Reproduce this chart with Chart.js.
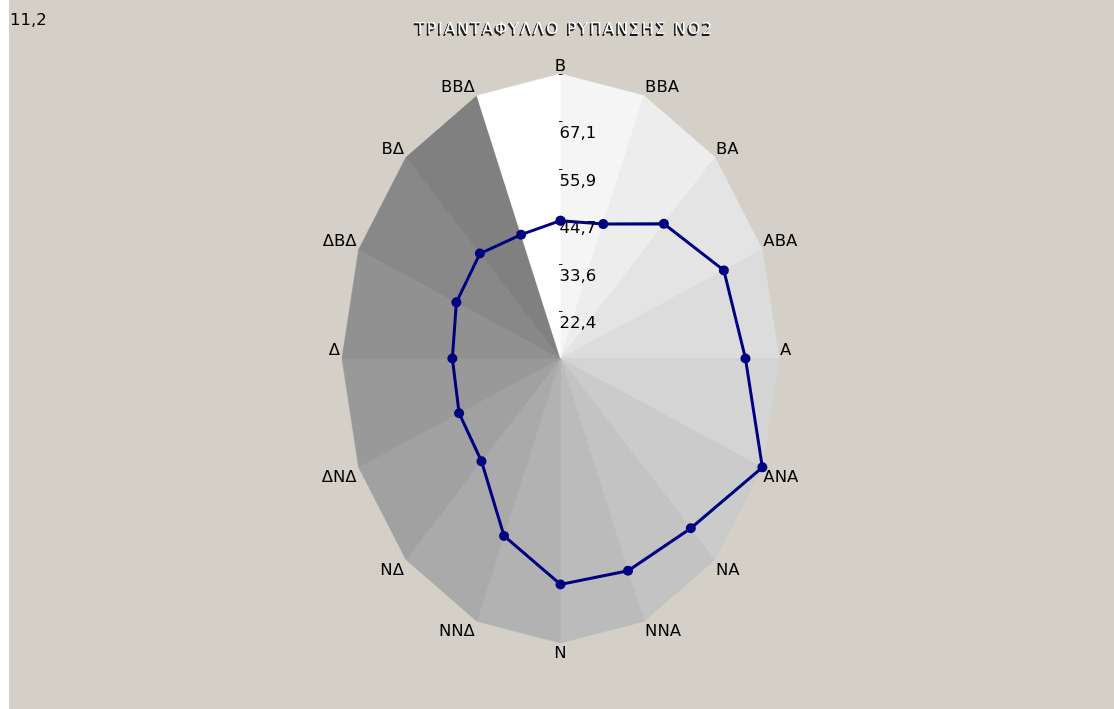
<!DOCTYPE html>
<html lang="el">

<head>
  <meta charset="UTF-8">
  <title>Τριαντάφυλλο ρύπανσης NO2</title>
  <script src="https://cdn.jsdelivr.net/npm/chart.js"></script>
  <style>
    html, body {
      margin: 0;
      padding: 0;
      background: #ffffff;
      overflow: hidden;
    }
    #chartContainer {
      position: absolute;
      left: 9px;
      top: 0;
      width: 1105px;
      height: 709px;
      background: #d4d0c8;
    }
  </style>
</head>

<body>

  <div id="chartContainer">
    <canvas id="roseNo2" width="1105" height="709"></canvas>
  </div>

  <script>
    // wind directions, clockwise from north (Β)
    const directions = ['Β', 'ΒΒΑ', 'ΒΑ', 'ΑΒΑ', 'Α', 'ΑΝΑ', 'ΝΑ', 'ΝΝΑ', 'Ν', 'ΝΝΔ', 'ΝΔ', 'ΔΝΔ', 'Δ', 'ΔΒΔ', 'ΒΔ', 'ΒΒΔ'];
    const no2Values = [43.7, 45.5, 56.1, 65.5, 68.0, 78.3, 67.8, 65.4, 64.5, 56.5, 45.5, 44.9, 44.4, 45.8, 46.2, 42.8];
    const tickValues = [11.186, 22.371, 33.557, 44.743, 55.929, 67.114, 78.3];
    const tickLabels = ['11,2', '22,4', '33,6', '44,7', '55,9', '67,1', ''];
    const chartTitle = 'ΤΡΙΑΝΤΑΦΥΛΛΟ ΡΥΠΑΝΣΗΣ ΝΟ2';

    const scaleMin = tickValues[0];
    const scaleMax = tickValues[tickValues.length - 1];
    const span = scaleMax - scaleMin;

    // sector shades: sector k lies between direction k and k+1
    const sectorColors = [];
    for (let k = 0; k < 15; k++) {
      const g = Math.round(245 - k * 117 / 14);
      sectorColors.push('rgb(' + g + ',' + g + ',' + g + ')');
    }
    sectorColors.push('#ffffff');

    const angleOf = i => i * Math.PI * 2 / directions.length;

    const points = no2Values.map((v, i) => ({
      x: (v - scaleMin) * Math.sin(angleOf(i)),
      y: (v - scaleMin) * Math.cos(angleOf(i))
    }));
    points.push(points[0]);

    const FONT = '"DejaVu Sans", Verdana, sans-serif';

    const rosePlugin = {
      id: 'rose',
      beforeDatasetsDraw(chart) {
        const ctx = chart.ctx;
        const xs = chart.scales.x, ys = chart.scales.y;
        const at = (r, i) => [xs.getPixelForValue(r * Math.sin(angleOf(i))), ys.getPixelForValue(r * Math.cos(angleOf(i)))];
        const c = at(0, 0);
        ctx.save();
        for (let k = 0; k < directions.length; k++) {
          const a = at(span, k), b = at(span, (k + 1) % directions.length);
          ctx.beginPath();
          ctx.moveTo(c[0], c[1]);
          ctx.lineTo(a[0], a[1]);
          ctx.lineTo(b[0], b[1]);
          ctx.closePath();
          ctx.fillStyle = sectorColors[k];
          ctx.strokeStyle = sectorColors[k];
          ctx.lineWidth = 0.6;
          ctx.fill();
          ctx.stroke();
        }
        // value ticks along the north axis
        ctx.font = '16.5px ' + FONT;
        ctx.textAlign = 'left';
        ctx.textBaseline = 'alphabetic';
        tickValues.forEach((t, j) => {
          if (j === 0) return;
          const y = Math.round(ys.getPixelForValue(t - scaleMin)) + 0.5;
          ctx.strokeStyle = '#222';
          ctx.lineWidth = 1;
          ctx.beginPath();
          ctx.moveTo(c[0] - 1.5, y);
          ctx.lineTo(c[0] + 2, y);
          ctx.stroke();
          ctx.fillStyle = '#000';
          ctx.fillText(tickLabels[j], c[0] - 1, y + 16);
        });
        ctx.restore();
      },
      afterDatasetsDraw(chart) {
        const ctx = chart.ctx;
        const xs = chart.scales.x, ys = chart.scales.y;
        ctx.save();
        ctx.font = '16.5px ' + FONT;
        ctx.fillStyle = '#000';
        ctx.textBaseline = 'alphabetic';
        directions.forEach((d, i) => {
          const s = Math.sin(angleOf(i)), co = Math.cos(angleOf(i));
          const x = xs.getPixelForValue(span * s), y = ys.getPixelForValue(span * co);
          let tx = x;
          if (s > 0.01) { ctx.textAlign = 'left'; tx = x + 1; }
          else if (s < -0.01) { ctx.textAlign = 'right'; tx = x - 2; }
          else ctx.textAlign = 'center';
          const ty = co > -0.01 ? y - 3.5 : y + 15;
          ctx.fillText(d, tx, ty);
        });
        // first tick label ends up in the corner
        ctx.textAlign = 'left';
        ctx.fillText(tickLabels[0], 1, 25);

        // embossed title
        ctx.font = '16px ' + FONT;
        ctx.letterSpacing = '1.7px';
        ctx.textAlign = 'center';
        const tx = 555.5, ty = 34;
        ctx.fillStyle = '#1a1a1a';
        ctx.fillText(chartTitle, tx - 1, ty + 1);
        ctx.fillText(chartTitle, tx - 1.5, ty + 1.5);
        ctx.fillStyle = '#ffffff';
        ctx.fillText(chartTitle, tx, ty);
        ctx.restore();
      }
    };

    const ctx = document.getElementById('roseNo2').getContext('2d');
    new Chart(ctx, {
      type: 'scatter',
      data: {
        datasets: [
          {
            label: 'NO2',
            data: points,
            showLine: true,
            borderColor: '#000080',
            backgroundColor: '#000080',
            borderWidth: 3,
            pointRadius: 5,
            pointHoverRadius: 5,
            pointBorderWidth: 0
          }
        ]
      },
      options: {
        responsive: false,
        animation: false,
        layout: {
          padding: { left: 333, right: 335, top: 74, bottom: 66 }
        },
        plugins: {
          legend: { display: false },
          tooltip: { enabled: false },
          title: { display: false }
        },
        scales: {
          x: { type: 'linear', min: -span, max: span, display: false },
          y: { type: 'linear', min: -span, max: span, display: false }
        }
      },
      plugins: [rosePlugin]
    });
  </script>
</body>

</html>
